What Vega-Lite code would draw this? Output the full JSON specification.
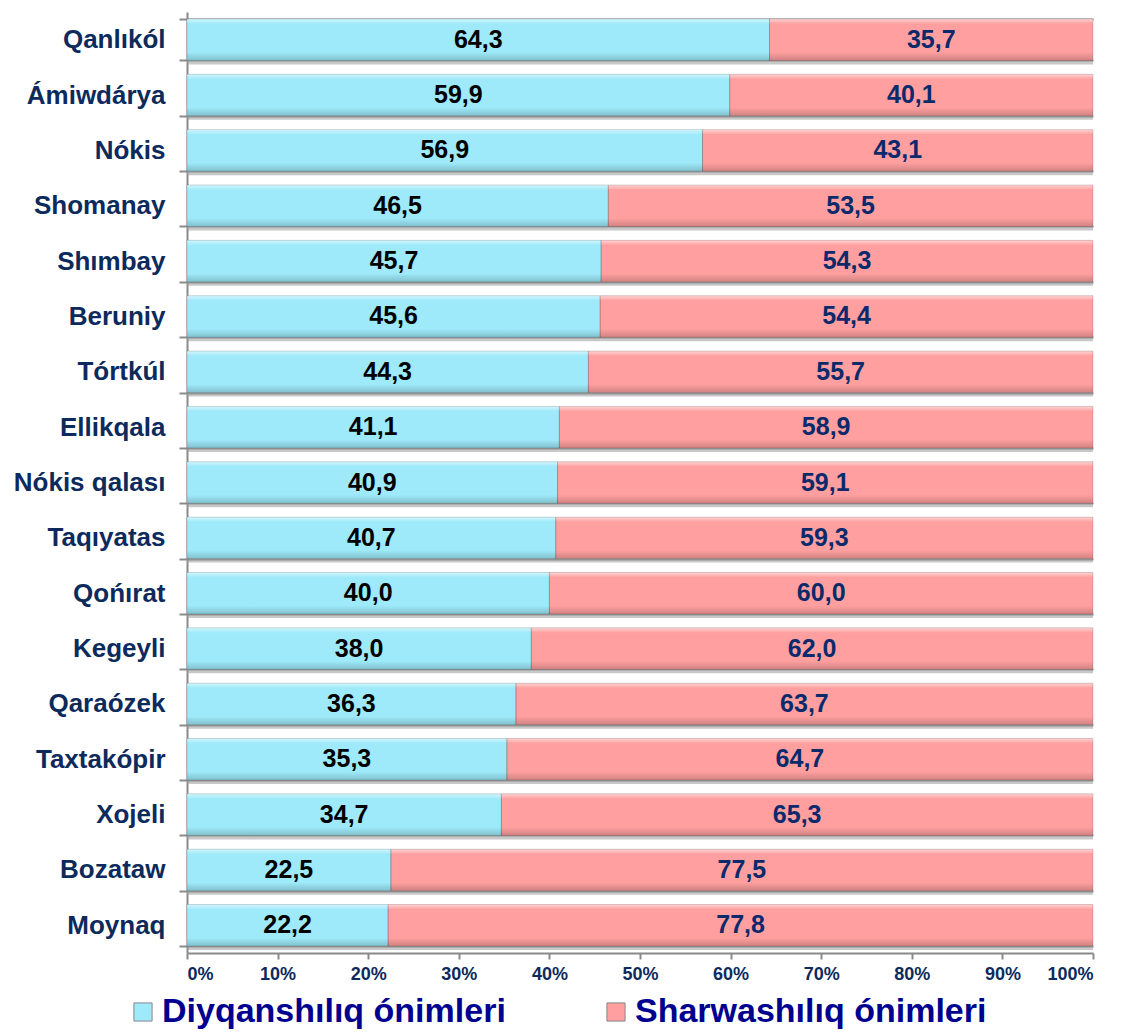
{
  "$schema": "https://vega.github.io/schema/vega-lite/v6.json",
  "width": 906,
  "height": 941,
  "autosize": {"type": "none"},
  "padding": {"left": 187, "top": 12, "right": 30, "bottom": 81},
  "background": "white",
  "config": {"view": {"stroke": null}, "font": "Liberation Sans"},
  "data": {"values": [
    {"d": "Qanlıkól", "t": "Diyqanshılıq ónimleri", "v": 64.3},
    {"d": "Qanlıkól", "t": "Sharwashılıq ónimleri", "v": 35.7},
    {"d": "Ámiwdárya", "t": "Diyqanshılıq ónimleri", "v": 59.9},
    {"d": "Ámiwdárya", "t": "Sharwashılıq ónimleri", "v": 40.1},
    {"d": "Nókis", "t": "Diyqanshılıq ónimleri", "v": 56.9},
    {"d": "Nókis", "t": "Sharwashılıq ónimleri", "v": 43.1},
    {"d": "Shomanay", "t": "Diyqanshılıq ónimleri", "v": 46.5},
    {"d": "Shomanay", "t": "Sharwashılıq ónimleri", "v": 53.5},
    {"d": "Shımbay", "t": "Diyqanshılıq ónimleri", "v": 45.7},
    {"d": "Shımbay", "t": "Sharwashılıq ónimleri", "v": 54.3},
    {"d": "Beruniy", "t": "Diyqanshılıq ónimleri", "v": 45.6},
    {"d": "Beruniy", "t": "Sharwashılıq ónimleri", "v": 54.4},
    {"d": "Tórtkúl", "t": "Diyqanshılıq ónimleri", "v": 44.3},
    {"d": "Tórtkúl", "t": "Sharwashılıq ónimleri", "v": 55.7},
    {"d": "Ellikqala", "t": "Diyqanshılıq ónimleri", "v": 41.1},
    {"d": "Ellikqala", "t": "Sharwashılıq ónimleri", "v": 58.9},
    {"d": "Nókis qalası", "t": "Diyqanshılıq ónimleri", "v": 40.9},
    {"d": "Nókis qalası", "t": "Sharwashılıq ónimleri", "v": 59.1},
    {"d": "Taqıyatas", "t": "Diyqanshılıq ónimleri", "v": 40.7},
    {"d": "Taqıyatas", "t": "Sharwashılıq ónimleri", "v": 59.3},
    {"d": "Qońırat", "t": "Diyqanshılıq ónimleri", "v": 40.0},
    {"d": "Qońırat", "t": "Sharwashılıq ónimleri", "v": 60.0},
    {"d": "Kegeyli", "t": "Diyqanshılıq ónimleri", "v": 38.0},
    {"d": "Kegeyli", "t": "Sharwashılıq ónimleri", "v": 62.0},
    {"d": "Qaraózek", "t": "Diyqanshılıq ónimleri", "v": 36.3},
    {"d": "Qaraózek", "t": "Sharwashılıq ónimleri", "v": 63.7},
    {"d": "Taxtakópir", "t": "Diyqanshılıq ónimleri", "v": 35.3},
    {"d": "Taxtakópir", "t": "Sharwashılıq ónimleri", "v": 64.7},
    {"d": "Xojeli", "t": "Diyqanshılıq ónimleri", "v": 34.7},
    {"d": "Xojeli", "t": "Sharwashılıq ónimleri", "v": 65.3},
    {"d": "Bozataw", "t": "Diyqanshılıq ónimleri", "v": 22.5},
    {"d": "Bozataw", "t": "Sharwashılıq ónimleri", "v": 77.5},
    {"d": "Moynaq", "t": "Diyqanshılıq ónimleri", "v": 22.2},
    {"d": "Moynaq", "t": "Sharwashılıq ónimleri", "v": 77.8}
  ]},
  "transform": [
    {"stack": "v", "groupby": ["d"], "sort": [{"field": "t", "order": "ascending"}], "as": ["x0", "x1"]},
    {"calculate": "(datum.x0 + datum.x1) / 2", "as": "xm"},
    {"calculate": "replace(format(datum.v, '.1f'), '.', ',')", "as": "lbl"}
  ],
  "encoding": {
    "y": {
      "field": "d", "type": "nominal", "sort": null,
      "scale": {"paddingInner": 0.25, "paddingOuter": 0.125},
      "axis": {
        "title": null, "tickBand": "extent", "grid": true, "gridColor": "#8a8a8a", "gridWidth": 2,
        "domainColor": "#8a8a8a", "domainWidth": 2, "tickColor": "#8a8a8a", "tickWidth": 2, "tickSize": 8,
        "labelFont": "Liberation Sans", "labelFontWeight": "bold", "labelFontSize": 26,
        "labelColor": "#0d2a5c", "labelPadding": 14, "labelLimit": 300
      }
    }
  },
  "layer": [
    {
      "mark": {"type": "bar", "color": "#9a9a9a", "opacity": 0.55, "yOffset": 4},
      "encoding": {
        "x": {"field": "x0", "type": "quantitative"},
        "x2": {"field": "x1"}
      }
    },
    {
      "mark": {"type": "bar"},
      "encoding": {
        "x": {
          "field": "x0", "type": "quantitative",
          "scale": {"domain": [0, 100], "nice": false},
          "axis": {
            "title": null, "values": [0,10,20,30,40,50,60,70,80,90,100], "labelExpr": "datum.value + '%'",
            "grid": false, "domainColor": "#8a8a8a", "domainWidth": 2, "tickColor": "#8a8a8a", "tickWidth": 2,
            "tickSize": 6, "labelFont": "Liberation Sans", "labelFontWeight": "bold", "labelFontSize": 18,
            "labelColor": "#0d2a5c", "labelPadding": 6
          }
        },
        "x2": {"field": "x1"},
        "color": {
          "field": "t", "type": "nominal",
          "scale": {"domain": ["Diyqanshılıq ónimleri", "Sharwashılıq ónimleri"], "range": ["#9eeafa", "#ff9f9f"]},
          "legend": {
            "title": null, "orient": "none", "direction": "horizontal", "legendX": -61, "legendY": 983,
            "symbolType": "square", "symbolSize": 330, "symbolStrokeColor": "#888888", "symbolStrokeWidth": 1,
            "labelFont": "Liberation Sans", "labelFontWeight": "bold", "labelFontSize": 34, "labelColor": "#000090",
            "labelOffset": 2, "columnPadding": 93, "labelLimit": 600
          }
        }
      }
    },
    {
      "mark": {"type": "bar", "fill": {"gradient": "linear", "x1": 0, "y1": 0, "x2": 0, "y2": 1, "stops": [
        {"offset": 0, "color": "rgba(255,255,255,0.55)"},
        {"offset": 0.12, "color": "rgba(255,255,255,0)"},
        {"offset": 0.8, "color": "rgba(0,0,0,0)"},
        {"offset": 1, "color": "rgba(0,0,0,0.18)"}
      ]}, "stroke": "rgba(0,0,0,0.15)", "strokeWidth": 1},
      "encoding": {
        "x": {"field": "x0", "type": "quantitative"},
        "x2": {"field": "x1"}
      }
    },
    {
      "mark": {"type": "text", "font": "Liberation Sans", "fontWeight": "bold", "fontSize": 25, "baseline": "middle", "align": "center"},
      "encoding": {
        "x": {"field": "xm", "type": "quantitative"},
        "text": {"field": "lbl"},
        "color": {"condition": {"test": "datum.t === 'Diyqanshılıq ónimleri'", "value": "#000000"}, "value": "#0b2a6b"}
      }
    }
  ]
}
